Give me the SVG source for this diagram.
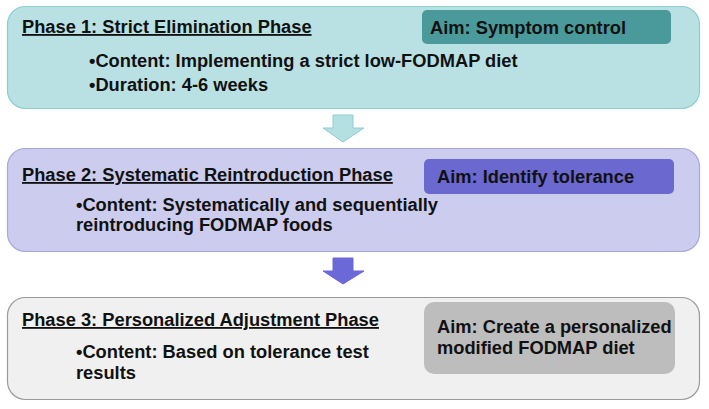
<svg xmlns="http://www.w3.org/2000/svg" width="709" height="409" viewBox="0 0 709 409">
<style>
text{font-family:"Liberation Sans",Arial,sans-serif;font-weight:bold;font-size:18.3px;fill:#111}
.t{text-decoration:underline}
</style>
<rect width="709" height="409" fill="#ffffff"/>
<g id="phase1">
<rect x="7.5" y="6.5" width="692" height="102" rx="18" fill="#b9e1e4" stroke="#8ccdd0" stroke-width="1.2"/>
<text class="t" x="22" y="33">Phase 1: Strict Elimination Phase</text>
<text x="89" y="67">•Content: Implementing a strict low-FODMAP diet</text>
<text x="89" y="91">•Duration: 4-6 weeks</text>
<g id="aim1">
<rect x="422" y="10" width="249" height="34" rx="5" fill="#4a9a9c"/>
<text x="430" y="34">Aim: Symptom control</text>
</g>
</g>
<g id="phase2">
<rect x="7.5" y="148.5" width="692" height="103" rx="18" fill="#cccdee" stroke="#a8a8d8" stroke-width="1.2"/>
<text class="t" x="22" y="181">Phase 2: Systematic Reintroduction Phase</text>
<text x="76" y="211">•Content: Systematically and sequentially</text>
<text x="76" y="231">reintroducing FODMAP foods</text>
<g id="aim2">
<rect x="424" y="159" width="250" height="35" rx="5" fill="#6b68cf"/>
<text x="437" y="183">Aim: Identify tolerance</text>
</g>
</g>
<g id="phase3">
<rect x="7.5" y="297.5" width="692" height="102" rx="18" fill="#f0f0f0" stroke="#9a9a9a" stroke-width="1.2"/>
<text class="t" x="22" y="326">Phase 3: Personalized Adjustment Phase</text>
<text x="76" y="358">•Content: Based on tolerance test</text>
<text x="76" y="379">results</text>
<g id="aim3">
<rect x="424" y="302" width="251" height="72" rx="10" fill="#bdbdbd"/>
<text x="437" y="333">Aim: Create a personalized</text>
<text x="437" y="354">modified FODMAP diet</text>
</g>
</g>
<g id="connectors">
<polygon points="333,115 353,115 353,128 364,128 343,142 323,128 333,128" fill="#b4e0e2" stroke="#8ccdd0" stroke-width="1"/>
<polygon points="333,258 353,258 353,271 364,271 343,284 323,271 333,271" fill="#6b68d8" stroke="#6b68d8" stroke-width="1"/>
</g>
</svg>
